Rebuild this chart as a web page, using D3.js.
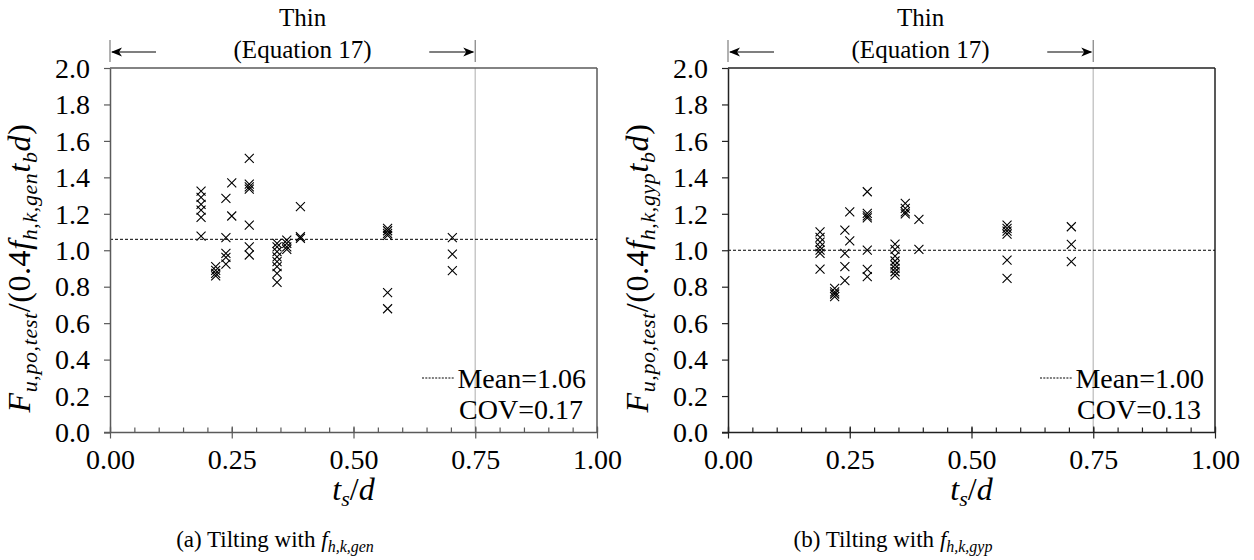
<!DOCTYPE html>
<html><head><meta charset="utf-8">
<script src="https://cdn.jsdelivr.net/npm/d3@7"></script>
<style>
body{margin:0;background:#fff}
svg{display:block}
text{font-family:"Liberation Serif","DejaVu Serif",serif;fill:#000}
</style>
</head><body>
<svg id="c" width="1254" height="560"></svg>
<script>
// ---------- data ----------
const xTicks = [0, 0.25, 0.5, 0.75, 1.0];
const xTickLabels = ["0.00", "0.25", "0.50", "0.75", "1.00"];
const xMinorTicks = d3.range(0, 21).map(i => i * 0.05);
const yTicks = [0, 0.2, 0.4, 0.6, 0.8, 1.0, 1.2, 1.4, 1.6, 1.8, 2.0];
const yTickLabels = ["0.0","0.2","0.4","0.6","0.8","1.0","1.2","1.4","1.6","1.8","2.0"];
const thinLimit = 0.75;

// panel (a): f_h,k,gen
const genColX = [0.187, 0.217, 0.238, 0.25, 0.286, 0.343, 0.363, 0.391, 0.57, 0.703];
const genColY = [
  [1.325, 1.29, 1.252, 1.22, 1.18, 1.078],
  [0.91, 0.89, 0.873, 0.86],
  [1.285, 1.069, 0.983, 0.961, 0.924],
  [1.37, 1.188],
  [1.504, 1.363, 1.348, 1.336, 1.138, 1.019, 0.974],
  [1.038, 1.019, 0.992, 0.964, 0.937, 0.91, 0.873, 0.824],
  [1.056, 1.038, 1.019, 1.005],
  [1.239, 1.074, 1.065],
  [1.12, 1.107, 1.093, 1.082, 0.767, 0.679],
  [1.069, 0.979, 0.888]
];
// panel (b): f_h,k,gyp
const gypColX = [0.189, 0.219, 0.24, 0.25, 0.286, 0.343, 0.364, 0.392, 0.573, 0.705];
const gypColY = [
  [1.101, 1.071, 1.045, 1.019, 1.001, 0.983, 0.897],
  [0.791, 0.772, 0.76, 0.745],
  [1.111, 0.983, 0.91, 0.833],
  [1.21, 1.052],
  [1.321, 1.202, 1.189, 1.178, 1.001, 0.895, 0.855],
  [1.034, 1.005, 0.968, 0.941, 0.919, 0.9, 0.882, 0.864],
  [1.257, 1.23, 1.211, 1.199],
  [1.169, 1.005],
  [1.138, 1.12, 1.105, 1.089, 0.946, 0.846],
  [1.129, 1.032, 0.937]
];
const meanValues = [1.06, 1.00];
const meanLabels = ["Mean=1.06", "Mean=1.00"];
const covLabels = ["COV=0.17", "COV=0.13"];
const captionLetters = ["(a) Tilting with ", "(b) Tilting with "];
const subscriptKinds = ["h,k,gen", "h,k,gyp"];

// ---------- drawing ----------
const svg = d3.select("#c");
const panelLeft = [110, 728];
const plotW = 487, yTop = 68, yBot = 432.5;
const frameColor = ["#5a5a5a", "#222"];
const tickFont = 28, labelFont = 32, subFont = 22;

function drawPanel(p, colX, colY) {
  const x0 = panelLeft[p];
  const g = svg.append("g");
  const x = d3.scaleLinear().domain([0, 1]).range([x0, x0 + plotW]);
  const y = d3.scaleLinear().domain([0, 2]).range([yBot, yTop]);

  // thin limit line
  g.append("line").attr("x1", x(thinLimit)).attr("x2", x(thinLimit))
    .attr("y1", y(2)).attr("y2", y(0)).attr("stroke", "#c8c8c8").attr("stroke-width", 1.5);

  // frame top/right
  g.append("line").attr("x1", x(0)).attr("x2", x(1)).attr("y1", y(2)).attr("y2", y(2))
    .attr("stroke", frameColor[p]).attr("stroke-width", 1.5);
  g.append("line").attr("x1", x(1)).attr("x2", x(1)).attr("y1", y(2)).attr("y2", y(0))
    .attr("stroke", frameColor[p]).attr("stroke-width", 1.5);

  // mean line
  g.append("line").attr("x1", x(0)).attr("x2", x(1))
    .attr("y1", y(meanValues[p])).attr("y2", y(meanValues[p]))
    .attr("stroke", "#000").attr("stroke-width", 1).attr("stroke-dasharray", "3,2");

  // x minor ticks (inside)
  const xMinor = g.append("g").attr("transform", `translate(0,${yBot})`)
    .call(d3.axisBottom(x).tickValues(xMinorTicks).tickSize(-5).tickFormat(""));
  xMinor.select(".domain").remove();
  xMinor.selectAll(".tick line").attr("stroke", frameColor[p]).attr("stroke-width", 1.2);

  // x major axis
  const xa = g.append("g").attr("transform", `translate(0,${yBot})`)
    .call(d3.axisBottom(x).tickValues(xTicks).tickFormat((d, i) => xTickLabels[i]).tickSize(6).tickSizeOuter(0).tickPadding(9));
  xa.attr("font-family", null);
  xa.select(".domain").attr("stroke", frameColor[p]).attr("stroke-width", 1.5).attr("d", `M${x(0) - 6},0H${x(1)}`);
  xa.selectAll(".tick line").attr("y1", -6).attr("y2", 6).attr("stroke", frameColor[p]).attr("stroke-width", 1.2);
  xa.selectAll(".tick text").attr("font-size", tickFont).attr("fill", "#000").attr("dy", "0.75em");

  // y axis
  const ya = g.append("g").attr("transform", `translate(${x0},0)`)
    .call(d3.axisLeft(y).tickValues(yTicks).tickFormat((d, i) => yTickLabels[i]).tickSize(6).tickSizeOuter(0).tickPadding(14));
  ya.attr("font-family", null);
  ya.select(".domain").attr("stroke", frameColor[p]).attr("stroke-width", 1.5);
  ya.selectAll(".tick line").attr("stroke", frameColor[p]).attr("stroke-width", 1.2);
  ya.selectAll(".tick text").attr("font-size", tickFont).attr("fill", "#000").attr("dy", "0.33em");

  // markers
  const pts = [];
  colX.forEach((cx, i) => colY[i].forEach(v => pts.push([cx, v])));
  const s = 4.5;
  g.append("g").selectAll("path").data(pts).join("path")
    .attr("d", d => {
      const px = x(d[0]), py = y(d[1]);
      return `M${px - s},${py - s}L${px + s},${py + s}M${px - s},${py + s}L${px + s},${py - s}`;
    })
    .attr("stroke", "#000").attr("stroke-width", 1.1).attr("fill", "none");

  // legend
  const ly = 378;
  g.append("line").attr("x1", x0 + 312).attr("x2", x0 + 344).attr("y1", ly).attr("y2", ly)
    .attr("stroke", "#000").attr("stroke-width", 1).attr("stroke-dasharray", "2,1.3");
  g.append("text").attr("x", x0 + 476).attr("y", ly + 10).attr("text-anchor", "end")
    .attr("font-size", tickFont).text(meanLabels[p]);
  g.append("text").attr("x", x0 + 473).attr("y", ly + 41).attr("text-anchor", "end")
    .attr("font-size", tickFont).text(covLabels[p]);

  // thin region annotation
  const bx0 = x(0), bx1 = x(thinLimit), ay = 52;
  [bx0, bx1].forEach(bx => g.append("line").attr("x1", bx).attr("x2", bx).attr("y1", 40).attr("y2", 62)
    .attr("stroke", "#888").attr("stroke-width", 1.3));
  g.append("line").attr("x1", bx0 + 2).attr("x2", bx0 + 46).attr("y1", ay).attr("y2", ay).attr("stroke", "#000").attr("stroke-width", 1.2);
  g.append("line").attr("x1", bx1 - 46).attr("x2", bx1 - 2).attr("y1", ay).attr("y2", ay).attr("stroke", "#000").attr("stroke-width", 1.2);
  g.append("path").attr("d", `M${bx0 + 1},${ay}L${bx0 + 12},${ay - 4.5}L${bx0 + 9},${ay}L${bx0 + 12},${ay + 4.5}Z`).attr("fill", "#000");
  g.append("path").attr("d", `M${bx1 - 1},${ay}L${bx1 - 12},${ay - 4.5}L${bx1 - 9},${ay}L${bx1 - 12},${ay + 4.5}Z`).attr("fill", "#000");
  const cx = (bx0 + bx1) / 2 + 10;
  g.append("text").attr("x", cx).attr("y", 26).attr("text-anchor", "middle").attr("font-size", 25).text("Thin");
  g.append("text").attr("x", cx).attr("y", 58).attr("text-anchor", "middle").attr("font-size", 25).text("(Equation 17)");

  // x label
  const xl = g.append("text").attr("x", x0 + plotW / 2).attr("y", 500).attr("text-anchor", "middle");
  xl.append("tspan").attr("font-style", "italic").attr("font-size", labelFont).text("t");
  xl.append("tspan").attr("font-style", "italic").attr("font-size", subFont).attr("dy", 6).text("s");
  xl.append("tspan").attr("font-size", labelFont).attr("dy", -6).text("/");
  xl.append("tspan").attr("font-style", "italic").attr("font-size", labelFont).text("d");

  // y label
  const yl = g.append("text").attr("transform", `translate(${x0 - 80},${268}) rotate(-90)`)
    .attr("text-anchor", "middle").attr("letter-spacing", 0.6);
  yl.append("tspan").attr("font-style", "italic").attr("font-size", labelFont).text("F");
  yl.append("tspan").attr("font-style", "italic").attr("font-size", subFont).attr("dy", 7).text("u,po,test");
  yl.append("tspan").attr("font-size", labelFont).attr("dy", -7).text("/(0.4");
  yl.append("tspan").attr("font-style", "italic").attr("font-size", labelFont).text("f");
  yl.append("tspan").attr("font-style", "italic").attr("font-size", subFont).attr("dy", 7).text(subscriptKinds[p]);
  yl.append("tspan").attr("font-style", "italic").attr("font-size", labelFont).attr("dy", -7).text("t");
  yl.append("tspan").attr("font-style", "italic").attr("font-size", subFont).attr("dy", 7).text("b");
  yl.append("tspan").attr("font-style", "italic").attr("font-size", labelFont).attr("dy", -7).text("d");
  yl.append("tspan").attr("font-size", labelFont).text(")");

  // caption
  const cap = g.append("text").attr("x", x0 + 165).attr("y", 547).attr("text-anchor", "middle");
  cap.append("tspan").attr("font-size", 23).text(captionLetters[p]);
  cap.append("tspan").attr("font-style", "italic").attr("font-size", 23).text("f");
  cap.append("tspan").attr("font-style", "italic").attr("font-size", 16).attr("dy", 5).text(subscriptKinds[p]);
}

drawPanel(0, genColX, genColY);
drawPanel(1, gypColX, gypColY);
</script>
</body></html>
